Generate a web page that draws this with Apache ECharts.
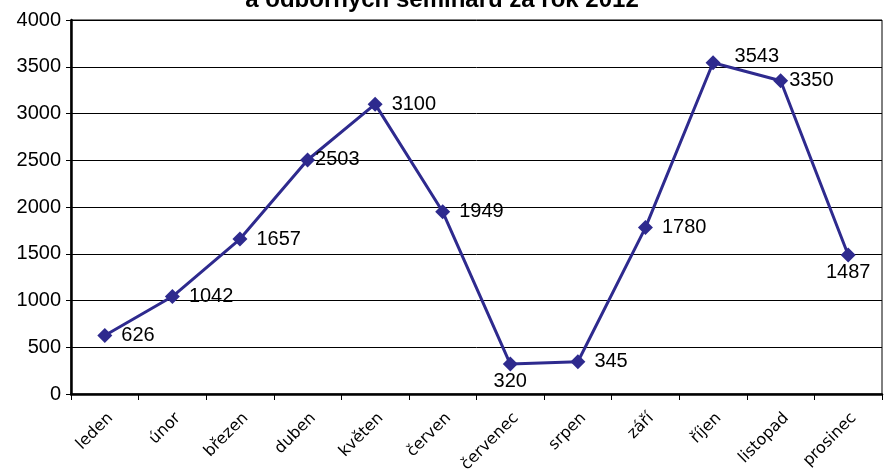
<!DOCTYPE html>
<html>
<head>
<meta charset="utf-8">
<script src="https://cdn.jsdelivr.net/npm/echarts@6/dist/echarts.min.js"></script>
<style>
  html, body { margin: 0; padding: 0; background: #fff; }
  #chart { width: 884px; height: 471px; }
</style>
</head>
<body>
<div id="chart"></div>
<script>
const months = ["leden", "únor", "březen", "duben", "květen", "červen",
  "červenec", "srpen", "září", "říjen", "listopad", "prosinec"];
const values = [626, 1042, 1657, 2503, 3100, 1949, 320, 345, 1780, 3543, 3350, 1487];
// kde je popisek pod bodem
const labelBelow = ["červenec", "prosinec"];

const chart = echarts.init(document.getElementById("chart"));

const lineColor = "#2e2a8e";

// drobné posuny popisků podle originálu
const labelFor = (m) => {
  if (labelBelow.includes(m)) return { position: "bottom", distance: 0 };
  if (m === "duben") return { position: "right", distance: 0 };
  if (m === "říjen") return { position: "right", distance: 14, offset: [0, -6] };
  if (m === "listopad") return { position: "right", distance: 1 };
  return { position: "right", distance: 9 };
};

const option = {
  animation: false,
  title: {
    text: "a odborných seminářů za rok 2012",
    left: "center",
    top: -17,
    textStyle: { fontFamily: "Liberation Sans", fontWeight: "bold", fontSize: 24, color: "#000" }
  },
  grid: {
    left: 71, right: 2, top: 20, bottom: 77,
    containLabel: false, outerBoundsMode: "none",
    show: true, borderColor: "#000", borderWidth: 1
  },
  xAxis: {
    type: "category",
    data: months,
    boundaryGap: true,
    axisLine: { lineStyle: { color: "#000", width: 2.5 } },
    axisTick: { show: true, length: 6, lineStyle: { color: "#000", width: 1 } },
    axisLabel: {
      rotate: 45, interval: 0, margin: 16, verticalAlign: "top",
      fontFamily: "DejaVu Sans", fontSize: 16, color: "#000"
    }
  },
  yAxis: {
    type: "value",
    min: 0, max: 4000, interval: 500,
    axisLine: { show: true, lineStyle: { color: "#000", width: 2.5 } },
    axisTick: { show: true, length: 5, lineStyle: { color: "#000" } },
    splitLine: { lineStyle: { color: "#000", width: 1 } },
    axisLabel: {
      fontFamily: "Liberation Sans", fontSize: 20, color: "#000", margin: 10,
      formatter: (v) => String(v)
    }
  },
  series: [{
    type: "line",
    data: values.map((v, i) => ({ value: v, label: labelFor(months[i]) })),
    symbol: "diamond",
    symbolSize: 15,
    lineStyle: { color: lineColor, width: 3 },
    itemStyle: { color: lineColor },
    label: {
      show: true,
      fontFamily: "Liberation Sans", fontSize: 20, color: "#000"
    }
  }]
};

chart.setOption(option);
</script>
</body>
</html>
